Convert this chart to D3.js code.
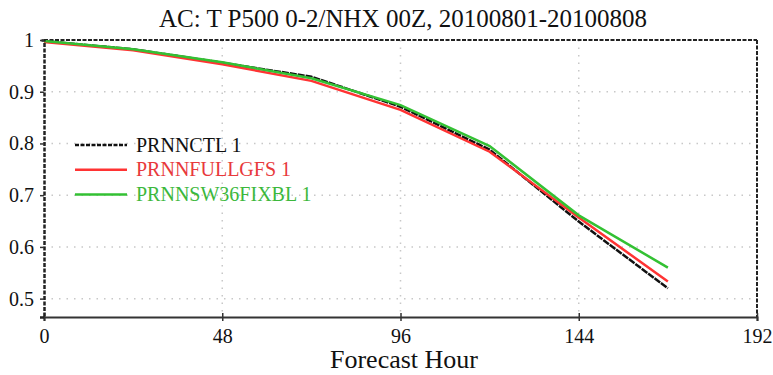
<!DOCTYPE html>
<html>
<head>
<meta charset="utf-8">
<script src="https://cdn.jsdelivr.net/npm/d3@7"></script>
</head>
<body style="margin:0">
<svg id="chart" width="773" height="375"></svg>
<script>
const hours = [0, 24, 48, 72, 96, 120, 144, 168];
const ctl = [0.998, 0.982, 0.956, 0.929, 0.871, 0.788, 0.649, 0.520];
const fullgfs = [0.996, 0.980, 0.953, 0.921, 0.865, 0.784, 0.657, 0.533];
const sw36 = [0.998, 0.982, 0.957, 0.926, 0.874, 0.795, 0.661, 0.560];
const xTicks = [0, 48, 96, 144, 192];
const yTicks = [0.5, 0.6, 0.7, 0.8, 0.9, 1];

const serif = '"Liberation Serif"';

const series = [
    { name: "PRNNCTL 1", values: ctl, color: "#111", text: "#111", dash: "7,1" },
    { name: "PRNNFULLGFS 1", values: fullgfs, color: "#ff3333", text: "#e8393b", dash: null },
    { name: "PRNNSW36FIXBL 1", values: sw36, color: "#33c133", text: "#3cb83c", dash: null }
];

const svg = d3.select("#chart");
const margin = { top: 40, right: 16, bottom: 58, left: 44 };
const width = +svg.attr("width") - margin.left - margin.right;
const height = +svg.attr("height") - margin.top - margin.bottom;

const g = svg.append("g").attr("transform", `translate(${margin.left},${margin.top})`);

const x = d3.scaleLinear().domain([0, 192]).range([0, width]);
const y = d3.scaleLinear().domain([0.4645, 1]).range([height, 0]);

// grid
g.selectAll(".vgrid")
    .data(xTicks.slice(1, -1))
    .enter().append("line")
    .attr("x1", d => x(d)).attr("x2", d => x(d))
    .attr("y1", 0).attr("y2", height)
    .attr("stroke", "#c8c8c8").attr("stroke-width", 1.5)
    .attr("stroke-dasharray", "1.5,6");
g.selectAll(".hgrid")
    .data(yTicks.slice(0, -1))
    .enter().append("line")
    .attr("x1", 0).attr("x2", width)
    .attr("y1", d => y(d)).attr("y2", d => y(d))
    .attr("stroke", "#c8c8c8").attr("stroke-width", 1.5)
    .attr("stroke-dasharray", "1.5,6");

// frame: top and right dashed
g.append("line").attr("x1", 0).attr("x2", width).attr("y1", 0).attr("y2", 0)
    .attr("stroke", "#222").attr("stroke-width", 2).attr("stroke-dasharray", "4,1.5");
g.append("line").attr("x1", width).attr("x2", width).attr("y1", 0).attr("y2", height)
    .attr("stroke", "#222").attr("stroke-width", 2).attr("stroke-dasharray", "4,1.5");

// lines
const line = d3.line()
    .x((d, i) => x(hours[i]))
    .y(d => y(d));

series.forEach(s => {
    g.append("path")
        .datum(s.values)
        .attr("fill", "none")
        .attr("stroke", s.color)
        .attr("stroke-width", 2.5)
        .attr("stroke-dasharray", s.dash)
        .attr("d", line);
});

// axes
const xAxis = g.append("g")
    .attr("transform", `translate(0,${height})`)
    .call(d3.axisBottom(x).tickValues(xTicks).tickSize(4).tickFormat(d3.format("d")));
xAxis.select(".domain").attr("stroke", "#333").attr("stroke-width", 2);
xAxis.selectAll(".tick line").attr("stroke", "#333").attr("stroke-width", 1.5).attr("y1", -4);
xAxis.selectAll("text").attr("font-size", 20)
    .attr("fill", "#111").attr("y", 26).attr("dy", null);

const yAxis = g.append("g")
    .call(d3.axisLeft(y).tickValues(yTicks).tickSize(4).tickFormat(d => d === 1 ? "1" : d3.format(".1f")(d)));
yAxis.select(".domain").attr("stroke", "#222").attr("stroke-width", 2.5).attr("stroke-dasharray", "4,1.5");
yAxis.selectAll(".tick line").attr("stroke", "#333").attr("stroke-width", 1.5);
yAxis.selectAll("text").attr("font-size", 20)
    .attr("fill", "#111").attr("x", -10);

// legend
const legend = g.append("g").attr("transform", "translate(31,105)");
legend.selectAll("line")
    .data(series)
    .enter().append("line")
    .attr("x1", 0).attr("x2", 52)
    .attr("y1", (d, i) => i * 24.7).attr("y2", (d, i) => i * 24.7)
    .attr("stroke", d => d.color).attr("stroke-width", 2.5)
    .attr("stroke-dasharray", d => d.dash === null ? null : "4,1.5");
legend.selectAll("text")
    .data(series)
    .enter().append("text")
    .attr("x", 61).attr("y", (d, i) => i * 24.7 + 6.5)
    .attr("font-size", 20)
    .attr("fill", d => d.text).text(d => d.name);

// title and axis label
const labels = [
    { text: "AC: T P500 0-2/NHX 00Z, 20100801-20100808", x: 403, y: 27, size: 25 },
    { text: "Forecast Hour", x: 404, y: 368, size: 26 }
];
svg.selectAll(".label")
    .data(labels)
    .enter().append("text")
    .attr("class", "label")
    .attr("x", d => d.x).attr("y", d => d.y)
    .attr("text-anchor", "middle")
    .attr("font-size", d => d.size)
    .attr("fill", "#111")
    .text(d => d.text);

// serif font on every text, applied again once the font is loaded
function applyFont() {
    svg.selectAll("g").attr("font-family", null);
    svg.selectAll("text").style("font-family", d => serif);
}
applyFont();
if (document.fonts && document.fonts.load) {
    document.fonts.load('20px "Liberation Serif"', "AC 0.9").then(applyFont, applyFont);
}
</script>
</body>
</html>
